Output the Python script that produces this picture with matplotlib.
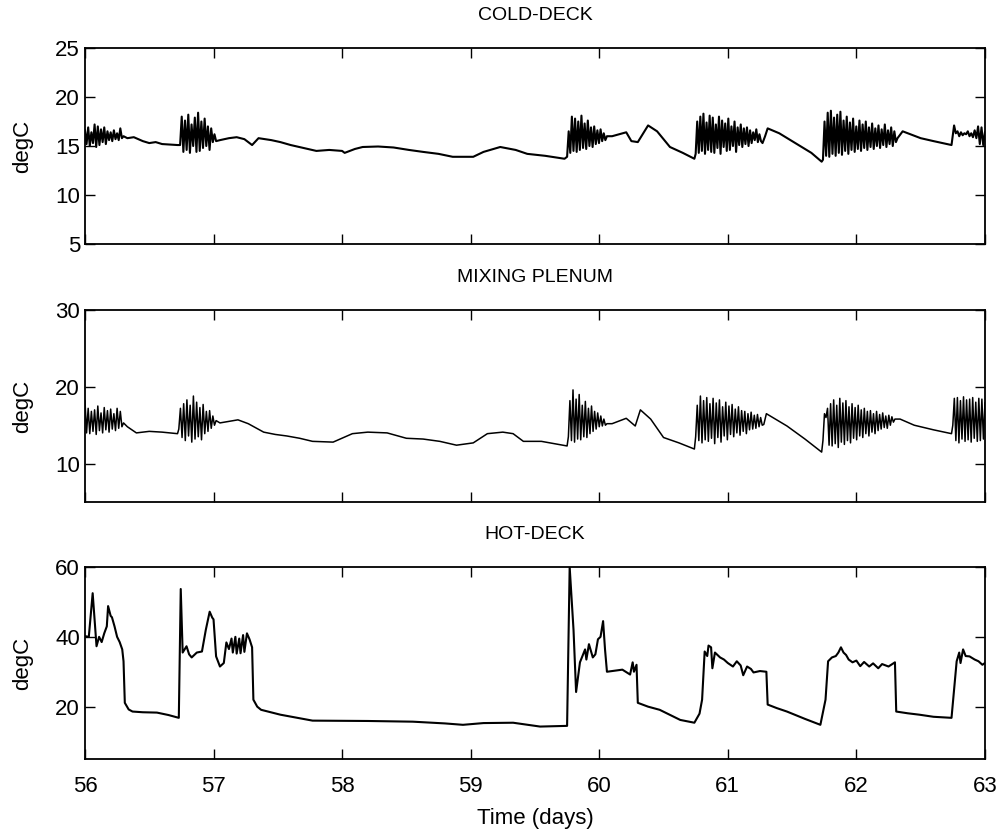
import numpy as np
import matplotlib.pyplot as plt

# ---- COLD-DECK: slow drift points (day, degC) ----
cold_t = [56.33, 56.38, 56.45, 56.50, 56.55, 56.60, 56.72,
          57.05, 57.12, 57.18, 57.24, 57.30, 57.35, 57.45, 57.52, 57.60, 57.70, 57.80, 57.90,
          58.00, 58.02, 58.10, 58.16, 58.28, 58.40, 58.52, 58.63, 58.75, 58.86, 59.02, 59.10,
          59.23, 59.35, 59.44, 59.58, 59.73,
          60.10, 60.21, 60.25, 60.30, 60.38, 60.45, 60.55, 60.65, 60.74,
          61.29, 61.31, 61.40, 61.55, 61.65, 61.73,
          62.36, 62.42, 62.50, 62.60, 62.74]
cold_v = [15.8, 15.9, 15.5, 15.3, 15.4, 15.2, 15.1,
          15.6, 15.8, 15.9, 15.7, 15.1, 15.8, 15.6, 15.4, 15.1, 14.8, 14.5, 14.6,
          14.5, 14.3, 14.7, 14.9, 14.95, 14.85, 14.6, 14.4, 14.2, 13.9, 13.9, 14.4,
          14.9, 14.6, 14.2, 14.0, 13.7,
          16.0, 16.4, 15.5, 15.4, 17.1, 16.5, 14.9, 14.3, 13.7,
          16.0, 16.8, 16.3, 15.1, 14.3, 13.4,
          16.5, 16.2, 15.8, 15.5, 15.1]

# cold-deck oscillation bursts: (start day, end day) and sampled values
cold_bursts = [
    ((56.00, 56.30), [16.6, 15.2, 16.9, 15.0, 16.4, 15.3, 17.2, 14.9, 17.0, 15.1, 16.7, 15.4,
                      16.9, 15.2, 16.5, 15.6, 16.4, 15.5, 16.6, 15.7, 16.3, 15.6, 16.8, 15.8, 16.0]),
    ((56.74, 57.02), [15.1, 18.0, 14.4, 17.6, 14.6, 18.2, 14.3, 17.2, 15.0, 17.9, 14.4, 18.4,
                      14.5, 17.5, 14.8, 17.8, 15.0, 17.0, 14.6, 16.8, 15.4, 16.2, 15.5]),
    ((59.75, 60.06), [13.9, 16.5, 14.3, 18.0, 14.5, 17.8, 14.4, 17.5, 14.6, 18.1, 14.8, 17.3,
                      14.7, 17.6, 15.0, 16.9, 14.9, 17.0, 15.2, 16.6, 15.3, 16.7, 15.5, 16.3,
                      15.6, 16.0]),
    ((60.75, 61.27), [14.2, 17.5, 14.3, 18.0, 14.5, 18.3, 14.2, 17.4, 14.6, 18.1, 14.4, 17.9,
                      14.3, 17.2, 14.8, 18.0, 14.2, 17.6, 14.9, 17.3, 14.5, 17.8, 14.6, 17.0,
                      15.0, 17.5, 14.4, 16.9, 15.1, 17.2, 14.9, 16.8, 15.2, 16.9, 15.0, 16.6,
                      15.3, 16.4, 15.6, 16.7, 15.4, 16.2, 15.5, 15.3]),
    ((61.74, 62.32), [13.6, 17.5, 14.0, 18.4, 13.9, 18.6, 14.2, 17.9, 14.0, 18.2, 14.3, 18.5,
                      14.1, 17.6, 14.5, 18.0, 14.2, 17.4, 14.6, 17.8, 14.4, 17.0, 14.7, 17.6,
                      14.5, 17.2, 14.8, 17.5, 14.6, 16.9, 14.9, 17.3, 14.7, 16.8, 15.0, 17.1,
                      14.8, 16.7, 15.1, 17.2, 14.9, 16.6, 15.2, 16.9, 15.0, 16.5, 15.4, 15.8]),
    ((62.76, 63.00), [17.1, 16.3, 16.5, 16.0, 16.4, 16.1, 16.3, 16.2, 16.5, 16.0, 16.3, 15.9,
                      16.6, 15.8, 17.0, 15.2, 16.9, 15.1, 16.4]),
]

# ---- MIXING PLENUM ----
mix_t = [56.33, 56.40, 56.50, 56.60, 56.72,
         57.05, 57.12, 57.19, 57.27, 57.39, 57.48, 57.57, 57.67, 57.77, 57.93, 58.08, 58.20, 58.35,
         58.50, 58.63, 58.76, 58.89, 59.02, 59.13, 59.25, 59.33, 59.41, 59.55, 59.75,
         60.10, 60.21, 60.28, 60.32, 60.40, 60.50, 60.62, 60.74,
         61.30, 61.36, 61.46, 61.60, 61.73,
         62.34, 62.45, 62.60, 62.74]
mix_v = [14.8, 14.0, 14.2, 14.1, 13.9,
         15.3, 15.5, 15.7, 15.2, 14.1, 13.8, 13.6, 13.3, 12.9, 12.8, 13.9, 14.1, 14.0,
         13.3, 13.2, 12.9, 12.4, 12.7, 13.9, 14.1, 13.9, 12.9, 12.9, 12.3,
         15.2, 15.9, 14.9, 17.0, 15.8, 13.4, 12.7, 11.9,
         16.5, 15.9, 14.9, 13.2, 11.5,
         15.8, 15.0, 14.4, 13.9]

mix_bursts = [
    ((56.00, 56.30), [18.2, 14.0, 17.2, 13.9, 16.8, 14.2, 17.0, 13.8, 17.5, 14.3, 16.6, 14.0,
                      17.3, 14.4, 16.9, 14.1, 17.1, 14.5, 16.5, 14.3, 17.2, 14.6, 16.8, 14.8, 15.3]),
    ((56.73, 57.02), [14.5, 17.2, 13.4, 17.8, 13.0, 18.3, 13.6, 17.6, 12.8, 18.8, 13.2, 18.0,
                      13.5, 17.3, 13.1, 17.7, 13.9, 16.8, 14.2, 16.9, 14.6, 16.2, 15.0, 15.6]),
    ((59.76, 60.06), [13.5, 18.2, 13.0, 19.6, 12.8, 18.4, 13.2, 19.0, 13.1, 17.6, 13.5, 18.1,
                      13.4, 17.2, 13.9, 17.5, 14.2, 16.8, 14.5, 16.6, 14.8, 16.2, 14.9, 15.8,
                      15.0, 15.2]),
    ((60.75, 61.28), [13.5, 17.6, 13.0, 18.8, 12.7, 18.2, 13.1, 18.6, 12.9, 17.8, 13.3, 18.5,
                      12.6, 17.9, 13.4, 18.3, 12.8, 17.4, 13.6, 18.0, 13.1, 17.5, 13.8, 17.7,
                      13.5, 17.1, 14.0, 17.4, 13.7, 16.9, 14.2, 16.8, 13.9, 16.5, 14.4, 16.7,
                      14.5, 16.3, 14.6, 16.4, 14.8, 16.0, 15.0, 15.1]),
    ((61.74, 62.30), [13.0, 16.5, 16.0, 17.2, 12.4, 17.8, 12.3, 18.3, 12.6, 17.6, 12.1, 18.5,
                      12.8, 17.9, 12.5, 18.2, 13.0, 17.4, 12.7, 17.8, 13.3, 17.3, 13.1, 17.6,
                      13.6, 17.0, 13.4, 17.2, 13.9, 16.8, 13.6, 16.9, 14.1, 16.5, 13.9, 16.8,
                      14.3, 16.4, 14.5, 16.6, 14.7, 16.2, 14.6, 16.3, 15.0, 16.1, 15.4, 15.8]),
    ((62.75, 63.00), [15.0, 18.5, 13.0, 18.6, 12.7, 18.2, 13.2, 18.7, 12.9, 18.3, 13.1, 18.4,
                      12.8, 18.6, 13.3, 18.0, 12.9, 18.5, 13.0, 18.4, 13.2, 17.9]),
]

# ---- HOT-DECK ----
hot_t = [56.00, 56.03, 56.06, 56.075, 56.09, 56.11, 56.13, 56.15, 56.17, 56.18, 56.20, 56.21,
         56.23, 56.25, 56.27, 56.29, 56.30, 56.31, 56.34, 56.37, 56.45, 56.56, 56.65, 56.73,
         56.745, 56.76, 56.79, 56.81, 56.83, 56.87, 56.91, 56.94, 56.97, 56.99, 57.00, 57.02,
         57.05, 57.08, 57.10, 57.12, 57.14, 57.15, 57.17, 57.18, 57.20, 57.21, 57.23, 57.24,
         57.26, 57.28, 57.30, 57.31, 57.34, 57.37, 57.52, 57.77, 58.20, 58.55, 58.80, 58.94,
         59.10, 59.33, 59.54, 59.75, 59.77, 59.80, 59.82, 59.85, 59.89, 59.90, 59.92, 59.95,
         59.97, 59.99, 60.01, 60.03, 60.045, 60.06, 60.12, 60.18, 60.24, 60.26, 60.27, 60.29,
         60.30, 60.38, 60.47, 60.63, 60.74, 60.78, 60.80, 60.82, 60.84, 60.85, 60.87, 60.88,
         60.90, 60.94, 60.97, 61.00, 61.04, 61.07, 61.10, 61.12, 61.15, 61.18, 61.20, 61.25,
         61.30, 61.31, 61.38, 61.46, 61.60, 61.72, 61.76, 61.78, 61.81, 61.84, 61.86, 61.88,
         61.90, 61.92, 61.94, 61.97, 62.00, 62.03, 62.06, 62.10, 62.13, 62.17, 62.20, 62.25,
         62.30, 62.31, 62.40, 62.49, 62.60, 62.74, 62.76, 62.78, 62.80, 62.81, 62.83, 62.85,
         62.88, 62.92, 62.95, 62.98, 63.00]
hot_v = [40.2, 40.0, 52.5, 45.0, 37.3, 40.0, 38.5, 41.0, 43.0, 48.8, 46.0, 45.6,
         43.0, 40.0, 38.5, 36.4, 33.0, 21.1, 19.2, 18.6, 18.4, 18.3, 17.6, 16.8,
         53.7, 35.5, 37.3, 35.0, 34.1, 35.5, 35.8, 42.0, 47.2, 45.5, 45.0, 34.4,
         31.5, 32.5, 38.4, 36.5, 39.5, 35.5, 40.0, 35.2, 39.5, 35.3, 40.5, 35.7,
         41.0, 39.3, 37.0, 22.0, 20.0, 19.1, 17.7, 16.0, 15.9, 15.7, 15.2, 14.8,
         15.3, 15.4, 14.3, 14.5, 60.0, 42.0, 24.2, 32.7, 36.4, 33.5, 37.9, 34.1,
         35.0, 39.3, 40.0, 44.5, 36.4, 30.0, 30.3, 30.6, 29.2, 32.7, 30.0, 32.0,
         21.1, 20.0, 19.1, 16.2, 15.4, 18.0, 22.0, 35.8, 34.5, 37.5, 37.0, 31.0,
         35.5, 34.1, 33.5, 32.5, 31.5, 33.0, 31.8, 29.0, 31.5, 30.8, 29.8, 30.2,
         30.0, 20.6, 19.6, 18.6, 16.5, 14.8, 22.0, 33.0, 34.1, 34.5, 35.5, 37.0,
         35.5, 34.8, 33.5, 32.7, 33.2, 31.6, 32.8, 31.5, 32.4, 31.0, 32.2, 31.5,
         32.7, 18.6, 18.1, 17.7, 17.1, 16.8, 25.0, 33.0, 35.5, 32.5, 36.4, 34.5,
         34.4, 33.5, 33.0, 32.0, 32.5]

titles = ['COLD-DECK', 'MIXING PLENUM', 'HOT-DECK']
ylims = [(5, 25), (5, 30), (5, 60)]
yticks = [[5, 10, 15, 20, 25], [10, 20, 30], [20, 40, 60]]
xticks = [56, 57, 58, 59, 60, 61, 62, 63]


def assemble(t, v, bursts):
    tt = list(t)
    vv = list(v)
    for (t0, t1), vals in bursts:
        tt += list(np.linspace(t0, t1, len(vals)))
        vv += vals
    tt = np.array(tt)
    vv = np.array(vv)
    order = np.argsort(tt, kind='stable')
    return tt[order], vv[order]


plt.rcParams['font.family'] = ['Liberation Sans', 'DejaVu Sans']

series = [assemble(cold_t, cold_v, cold_bursts),
          assemble(mix_t, mix_v, mix_bursts),
          (np.array(hot_t), np.array(hot_v))]
widths = [1.5, 1.1, 1.5]

fig = plt.figure(figsize=(10.03, 8.32), dpi=100)
boxes = [[0.0847, 0.7067, 0.8973, 0.2356],
         [0.0847, 0.3966, 0.8973, 0.2308],
         [0.0847, 0.0877, 0.8973, 0.2308]]

for i in range(3):
    ax = fig.add_axes(boxes[i])
    x, y = series[i]
    ax.plot(x, y, color='black', lw=widths[i])
    ax.set_xlim(56, 63)
    ax.set_ylim(*ylims[i])
    ax.set_xticks(xticks)
    ax.set_yticks(yticks[i])
    ax.set_title(titles[i], fontsize=14, pad=20)
    ax.set_ylabel('degC', fontsize=16, labelpad=16)
    ax.tick_params(direction='in', top=True, right=True, length=7, width=1,
                   labelsize=16)
    ax.tick_params(axis='x', pad=12)
    for s in ax.spines.values():
        s.set_linewidth(1.3)
    if i < 2:
        ax.tick_params(labelbottom=False)
    else:
        ax.set_xlabel('Time (days)', fontsize=16, labelpad=8)

fig.savefig('out.png', dpi=100)
